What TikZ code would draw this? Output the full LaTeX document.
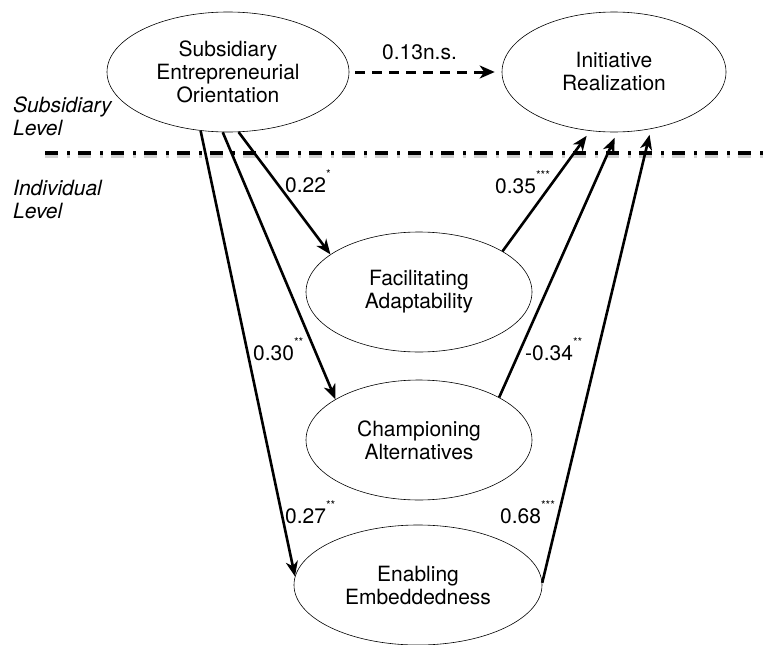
\documentclass[tikz,border=0pt]{standalone}
\usepackage{fontspec}
\setmainfont{TeX Gyre Heros}
\usetikzlibrary{shapes.geometric,arrows.meta}
\newcommand\sigstars[1]{\raisebox{14pt}{\fontsize{12}{12}\selectfont #1}}
\begin{document}
\begin{tikzpicture}[x=1pt,y=-1pt,
  ell/.style={ellipse,draw,line width=0.6pt,inner sep=0pt,align=center,minimum height=120pt,font=\fontsize{21}{23}\selectfont},
  arr/.style={line width=2.6pt,-{Stealth[length=15pt,width=12pt,inset=4.5pt]}},
  darr/.style={line width=3pt,dash pattern=on 10pt off 7pt,-{Stealth[length=15pt,width=13pt,inset=4.5pt]}},
  lbl/.style={anchor=base west,inner sep=0pt,font=\fontsize{21}{23}\selectfont},
  side/.style={anchor=base west,inner sep=0pt,font=\fontsize{21}{23}\selectfont\itshape},
  divider/.style={line width=3.8pt,dash pattern=on 13pt off 9pt on 3pt off 8pt}]
\useasboundingbox (0,0) rectangle (763,645);
% level divider
\draw[divider,black!18] (45,156) -- (763,156);
\draw[divider] (45,153) -- (763,153);
% nodes
\node[ell,minimum width=242pt] (seo) at (228,72) {Subsidiary\\Entrepreneurial\\Orientation};
\node[ell,minimum width=224pt] (ir) at (614,72) {Initiative\\Realization};
\node[ell,minimum width=226pt] (fa) at (419,292) {Facilitating\\Adaptability};
\node[ell,minimum width=226pt] (ca) at (419,440) {Championing\\Alternatives};
\node[ell,minimum width=248pt] (ee) at (418,585) {Enabling\\Embeddedness};
% side labels
\node[side] (sl1) at (13,112) {Subsidiary};
\node[side] (sl2) at (13,135) {Level};
\node[side] (il1) at (13,195) {Individual};
\node[side] (il2) at (13,218) {Level};
% connectors
\draw[darr,shorten <=6pt,shorten >=7pt] (seo.-0.5) -- (ir.180);
\draw[arr] (seo.-80) -- (fa.157);
\draw[arr] (seo.-95.5) -- (ca.154);
\draw[arr] (seo.-115) -- (ee.176);
\draw[arr,shorten >=6pt] (fa.26.6) -- (ir.-112);
\draw[arr,shorten >=6pt] (ca.28) -- (ir.-87);
\draw[arr,shorten >=6pt] (ee.1) -- (ir.-57.6);
% coefficient labels
\node[lbl] (l0) at (382,59) {0.13n.s.};
\node[lbl] (l1) at (285,192) {0.22\sigstars{*}};
\node[lbl] (l2) at (495,193) {0.35\sigstars{***}};
\node[lbl] (l3) at (253,360) {0.30\sigstars{**}};
\node[lbl] (l4) at (525,360) {-0.34\sigstars{**}};
\node[lbl] (l5) at (285,523) {0.27\sigstars{**}};
\node[lbl] (l6) at (500,523) {0.68\sigstars{***}};
\end{tikzpicture}
\end{document}
